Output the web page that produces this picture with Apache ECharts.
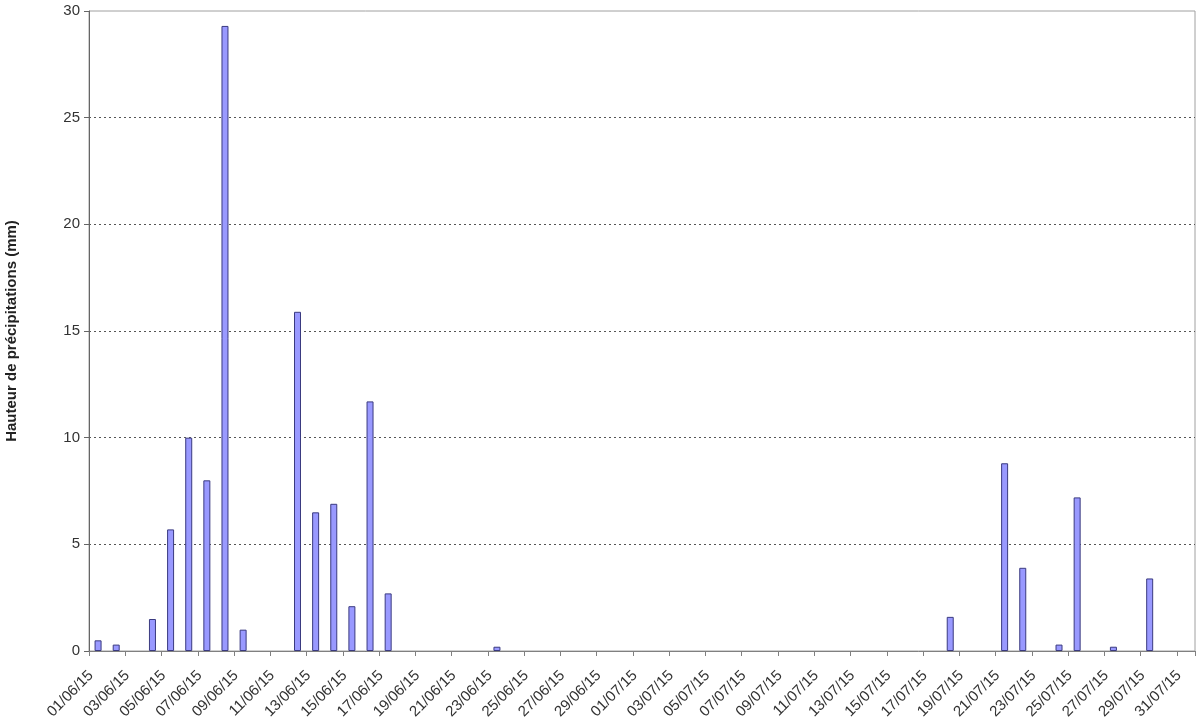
<!DOCTYPE html>
<html>
<head>
<meta charset="utf-8">
<script src="https://cdn.jsdelivr.net/npm/echarts@6/dist/echarts.min.js"></script>
<style>
html,body{margin:0;padding:0;background:#fff;}
#c{width:1200px;height:728px;}
</style>
</head>
<body>
<div id="c"></div>
<script>
const dates = [
"01/06/15","02/06/15","03/06/15","04/06/15","05/06/15","06/06/15","07/06/15","08/06/15","09/06/15","10/06/15",
"11/06/15","12/06/15","13/06/15","14/06/15","15/06/15","16/06/15","17/06/15","18/06/15","19/06/15","20/06/15",
"21/06/15","22/06/15","23/06/15","24/06/15","25/06/15","26/06/15","27/06/15","28/06/15","29/06/15","30/06/15",
"01/07/15","02/07/15","03/07/15","04/07/15","05/07/15","06/07/15","07/07/15","08/07/15","09/07/15","10/07/15",
"11/07/15","12/07/15","13/07/15","14/07/15","15/07/15","16/07/15","17/07/15","18/07/15","19/07/15","20/07/15",
"21/07/15","22/07/15","23/07/15","24/07/15","25/07/15","26/07/15","27/07/15","28/07/15","29/07/15","30/07/15",
"31/07/15"
];
const juneRain = [0.5,0.3,0,1.5,5.7,10.0,8.0,29.3,1.0,0,
                  0,15.9,6.5,6.9,2.1,11.7,2.7,0,0,0,
                  0,0,0.2,0,0,0,0,0,0,0];
const julyRain = [0,0,0,0,0,0,0,0,0,0,
                  0,0,0,0,0,0,0,1.6,0,0,
                  8.8,3.9,0,0.3,7.2,0,0.2,0,3.4,0,
                  0];
const rain = juneRain.concat(julyRain);
const yTicks = [0,5,10,15,20,25,30];

const chart = echarts.init(document.getElementById('c'), null, {renderer:'canvas'});
chart.setOption({
  animation:false,
  backgroundColor:'#ffffff',
  grid:{left:89,right:5,top:11,bottom:77,show:true,borderColor:'#a0a0a0',borderWidth:1,containLabel:false,outerBoundsMode:'none'},
  xAxis:{
    type:'category',
    data:dates,
    boundaryGap:true,
    axisLine:{lineStyle:{color:'#808080',width:1}},
    axisTick:{show:true,interval:1,length:5,lineStyle:{color:'#808080'}},
    axisLabel:{interval:1,rotate:45,color:'#333',fontFamily:'Liberation Sans, Arial, sans-serif',fontSize:15,margin:15,padding:[0,10,0,0]}
  },
  yAxis:{
    type:'value',
    min:yTicks[0],max:yTicks[yTicks.length-1],interval:5,
    name:'Hauteur de précipitations (mm)',
    nameLocation:'middle',
    nameGap:70,
    nameRotate:90,
    nameTextStyle:{color:'#222',fontWeight:'bold',fontSize:15,fontFamily:'Liberation Sans, Arial, sans-serif'},
    axisLine:{show:true,lineStyle:{color:'#666',width:1}},
    axisTick:{show:true,length:5,lineStyle:{color:'#666'}},
    axisLabel:{color:'#333',fontSize:15,fontFamily:'Liberation Sans, Arial, sans-serif',margin:9},
    splitLine:{show:true,lineStyle:{color:['#555','#555','#555','#555','#555','#555','rgba(0,0,0,0)'],type:[2,3],width:1}}
  },
  series:[{
    type:'bar',
    data:rain.map(v => v === 0 ? '-' : v),
    barWidth:7,
    itemStyle:{color:'#9999ff',borderColor:'#3a3a80',borderWidth:1}
  }]
});
</script>
</body>
</html>
